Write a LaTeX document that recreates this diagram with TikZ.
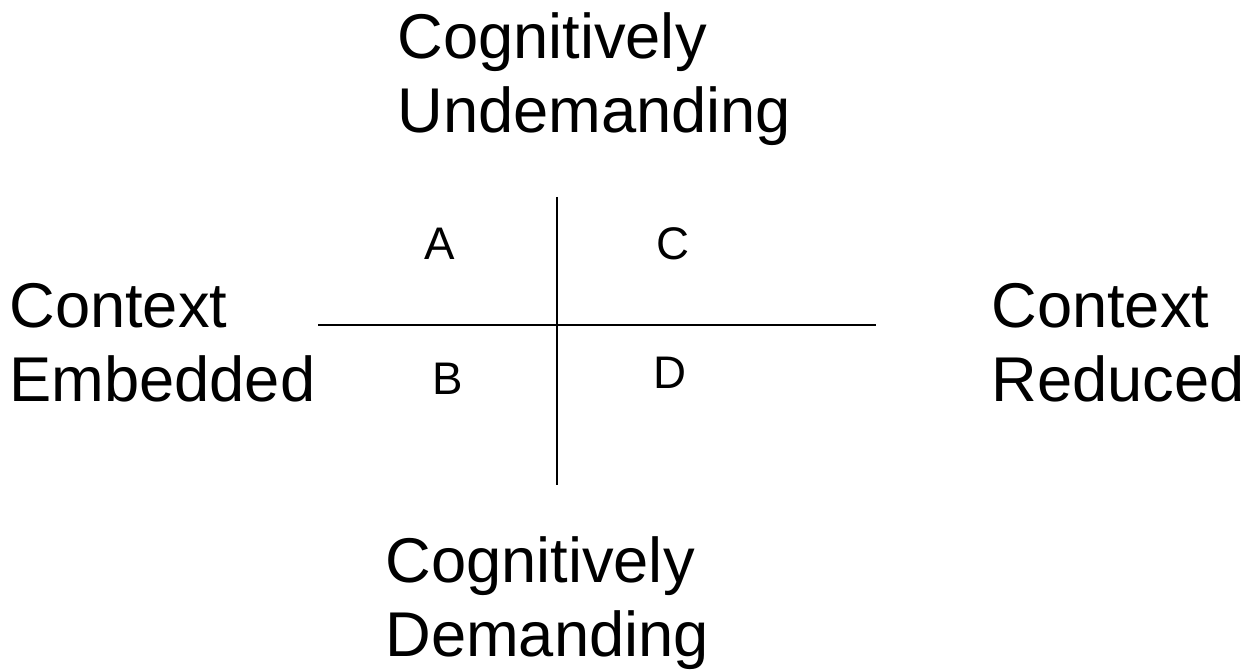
\documentclass[tikz,border=0pt]{standalone}
\usepackage{fontspec}
\setmainfont{Liberation Sans}

\begin{document}
\begin{tikzpicture}[x=0.02cm,y=-0.02cm]
  \tikzset{axis/.style={line width=1.3pt},
    side/.style={inner sep=0pt, align=left, anchor=base west,
      font=\fontsize{36}{42.5}\selectfont},
    cell/.style={inner sep=0pt, font=\fontsize{26}{30}\selectfont}}%
\useasboundingbox (0,0) rectangle (1252,671);
% ends of the two axes
\coordinate (top) at (557,197);
\coordinate (bottom) at (557,485);
\coordinate (left) at (318,325);
\coordinate (right) at (876,325);
\draw[axis] (top) -- (bottom);
\draw[axis] (left) -- (right);
% quadrant letters
\node[cell] (A) at (440,244) {A};
\node[cell] (C) at (673,244) {C};
\node[cell] (B) at (448,379) {B};
\node[cell] (D) at (670,373) {D};
% labels round the axes (base is the second line)
\node[side] (undemanding) at (397,133) {Cognitively\\Undemanding};
\node[side] (embedded) at (9,402) {Context\\Embedded};
\node[side] (reduced) at (991,402) {Context\\Reduced};
\node[side] (demanding) at (385,657) {Cognitively\\Demanding};
\end{tikzpicture}
\end{document}
